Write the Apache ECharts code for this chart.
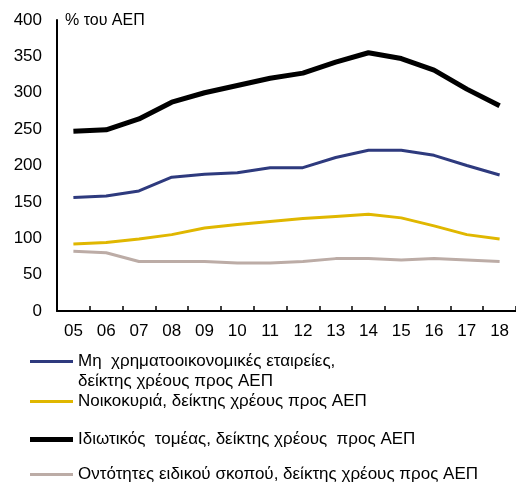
<!DOCTYPE html>
<html lang="el">
<head>
    <meta charset="UTF-8">
    <title>Χρέος προς ΑΕΠ</title>
    <script src="https://cdn.jsdelivr.net/npm/echarts@6/dist/echarts.min.js"></script>
    <style>
        body { margin: 0; background: #fff; }
    </style>
</head>
<body>
    <div id="main" style="width: 516px;height:484px;"></div>
    <script type="text/javascript">
        // years on the x axis
        const years = ['05', '06', '07', '08', '09', '10', '11', '12', '13', '14', '15', '16', '17', '18'];

        // values, % of GDP
        const corporates = [156, 158, 165, 184, 188, 190, 197, 197, 211, 221, 221, 214, 200, 187];
        const households = [92, 94, 99, 105, 114, 119, 123, 127, 130, 133, 128, 117, 105, 99];
        const privateSector = [247, 249, 264, 287, 300, 310, 320, 327, 342, 355, 347, 331, 305, 282];
        const spvs = [82, 80, 68, 68, 68, 66, 66, 68, 72, 72, 70, 72, 70, 68];

        const names = [
            'Μη  χρηματοοικονομικές εταιρείες,',
            'Νοικοκυριά, δείκτης χρέους προς ΑΕΠ',
            'Ιδιωτικός  τομέας, δείκτης χρέους  προς ΑΕΠ',
            'Οντότητες ειδικού σκοπού, δείκτης χρέους προς ΑΕΠ'
        ];
        const colors = ['#2e3a7e', '#e0b700', '#000000', '#bcaca6'];
        const widths = [3, 3, 5, 3];
        const legendTops = [353, 393, 431, 466];

        const font = 'Liberation Sans, Arial, sans-serif';

        function legendFor(i) {
            return {
                data: [names[i]],
                left: 30,
                top: legendTops[i],
                padding: 0,
                icon: 'rect',
                itemWidth: 43,
                itemHeight: widths[i],
                selectedMode: false,
                textStyle: { fontFamily: font, fontSize: 17, color: '#000' }
            };
        }

        let options = {
            animation: false,
            grid: { left: 57, right: 0, top: 20, bottom: 173, containLabel: false },
            legend: [legendFor(0), legendFor(1), legendFor(2), legendFor(3)],
            graphic: [
                {
                    type: 'text', left: 65, top: 13,
                    style: { text: '% του ΑΕΠ', font: '16px ' + font, fill: '#000' }
                },
                {
                    type: 'text', left: 78, top: 373,
                    style: { text: 'δείκτης χρέους προς ΑΕΠ', font: '17px ' + font, fill: '#000' }
                }
            ],
            xAxis: {
                type: 'category',
                data: years,
                boundaryGap: true,
                axisLine: { lineStyle: { color: '#000', width: 2 } },
                axisTick: { show: true, length: 5, inside: true, lineStyle: { color: '#000', width: 1.5 } },
                axisLabel: { color: '#000', fontFamily: font, fontSize: 17, margin: 12 }
            },
            yAxis: {
                type: 'value',
                min: 0,
                max: 400,
                interval: 50,
                splitLine: { show: false },
                axisLine: { show: true, lineStyle: { color: '#000', width: 2 } },
                axisTick: { show: false },
                axisLabel: { color: '#000', fontFamily: font, fontSize: 17, margin: 15 }
            },
            series: [corporates, households, privateSector, spvs].map((d, i) => ({
                name: names[i],
                type: 'line',
                data: d,
                symbol: 'none',
                z: i === 2 ? 3 : 2,
                lineStyle: { color: colors[i], width: widths[i] },
                itemStyle: { color: colors[i] }
            }))
        };

        let myChart = echarts.init(document.getElementById('main'));
        myChart.setOption(options);
    </script>
</body>
</html>
